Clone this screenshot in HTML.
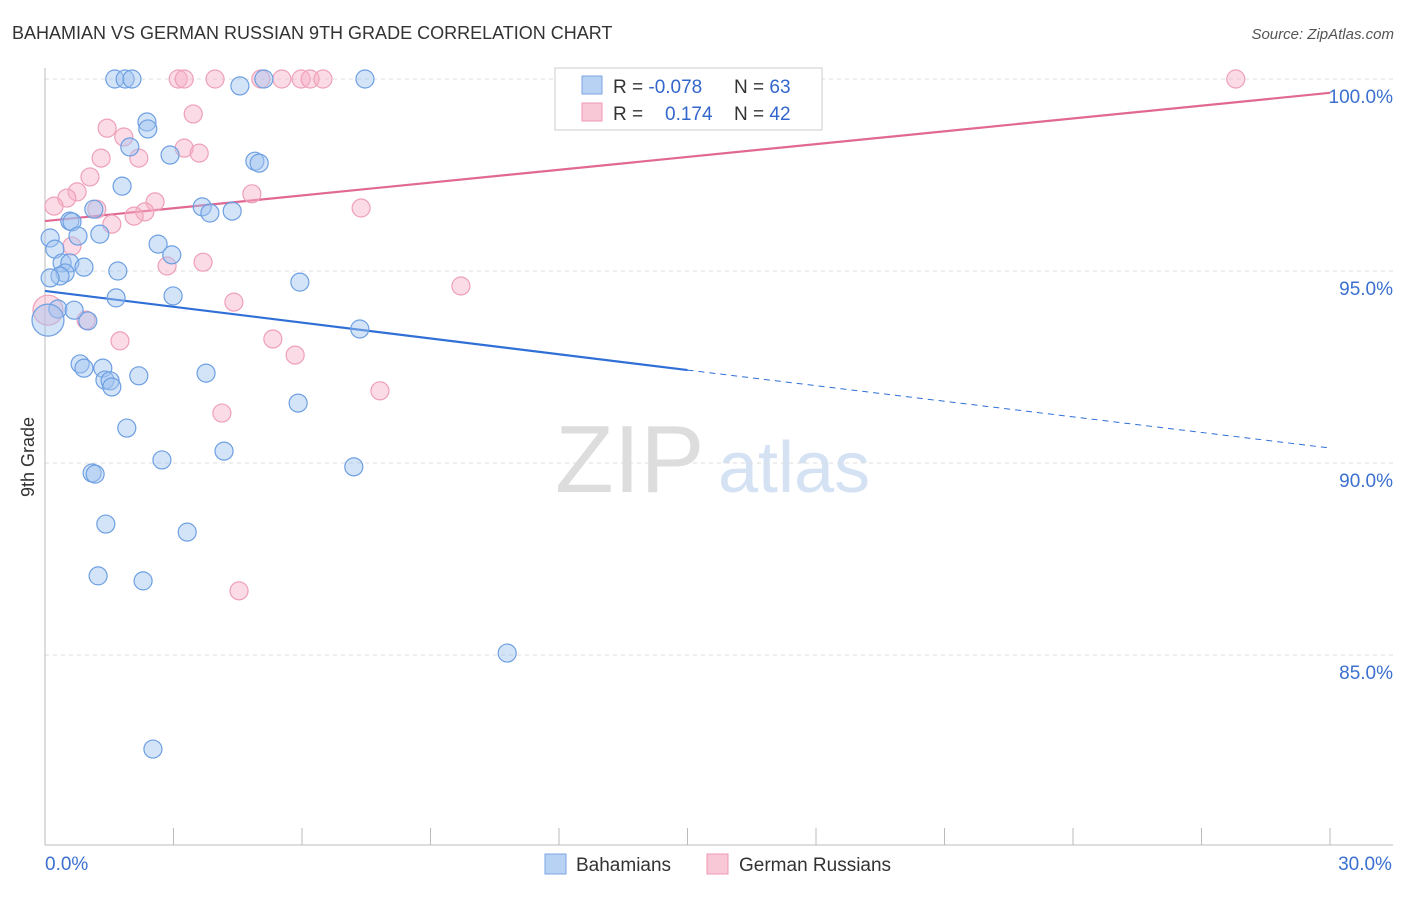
<!DOCTYPE html>
<html><head><meta charset="utf-8"><style>
body{margin:0;background:#fff;font-family:"Liberation Sans",sans-serif;}
svg text{font-family:"Liberation Sans",sans-serif;}
</style></head><body>
<svg id="c" width="1406" height="892">
<text x="12" y="39" font-size="18" fill="#333">BAHAMIAN VS GERMAN RUSSIAN 9TH GRADE CORRELATION CHART</text>
<text x="1394" y="39" font-size="15" fill="#555" text-anchor="end" font-style="italic">Source: ZipAtlas.com</text>
<text x="34" y="457" font-size="18" fill="#333" transform="rotate(-90 34 457)" text-anchor="middle">9th Grade</text>
<g><text x="555" y="492" font-size="96" fill="#ddd" font-family="Liberation Serif">ZIP</text><text x="718" y="492" font-size="72" fill="#d4e2f4">atlas</text></g>
<g id="grid"></g><g id="axes"></g><g id="trend"></g><g id="pts"></g>
<g>
<rect x="555" y="68" width="267" height="62" fill="#fff" stroke="#ccc"/>
<rect x="582" y="76" width="20" height="18" fill="#b8d2f4" stroke="#7aa7e6"/>
<rect x="582" y="103" width="20" height="18" fill="#f8c8d6" stroke="#ee99b4"/>
<text x="613" y="93" font-size="19" fill="#333">R = <tspan fill="#3366cc">-0.078</tspan><tspan x="734">N = </tspan><tspan fill="#3366cc">63</tspan></text>
<text x="613" y="120" font-size="19" fill="#333">R = <tspan x="665" fill="#3366cc">0.174</tspan><tspan x="734">N = </tspan><tspan fill="#3366cc">42</tspan></text>
</g>
<g>
<rect x="545" y="854" width="21" height="20" fill="#b8d2f4" stroke="#7aa7e6"/>
<text x="576" y="871" font-size="19" fill="#333">Bahamians</text>
<rect x="707" y="854" width="21" height="20" fill="#f8c8d6" stroke="#ee99b4"/>
<text x="739" y="871" font-size="19" fill="#333">German Russians</text>
</g>
</svg>
<script>
const yTicks=[100,95,90,85];
const yTickLabels=["100.0%","95.0%","90.0%","85.0%"];
const xTickLabels=["0.0%","30.0%"];
const blueX=[1.63,1.87,2.03,4.55,5.11,7.47,2.38,2.40,1.98,2.92,4.90,5.00,1.80,1.14,3.67,3.85,4.37,0.58,0.63,1.28,0.77,0.12,0.23,2.64,2.96,0.40,0.58,0.91,1.70,0.47,0.35,0.12,5.95,1.66,2.99,0.30,0.68,1.00,0.07,7.35,0.82,0.91,1.35,1.40,1.52,1.56,2.19,3.76,5.91,1.91,2.73,4.18,7.21,1.10,1.17,1.42,3.32,1.24,2.29,10.79,2.52];
const blueY=[100,100,100,99.82,100,100,98.88,98.70,98.23,98.02,97.86,97.81,97.21,96.61,96.67,96.51,96.56,96.30,96.28,95.96,95.91,95.86,95.57,95.70,95.42,95.21,95.21,95.10,95.00,94.95,94.87,94.82,94.71,94.30,94.35,94.01,93.98,93.70,93.72,93.49,92.58,92.47,92.47,92.16,92.14,91.98,92.27,92.34,91.56,90.91,90.08,90.31,89.90,89.74,89.71,88.41,88.20,87.06,86.93,85.05,82.55];
const pinkX=[3.11,3.25,3.97,5.04,5.53,5.98,6.19,6.49,12.49,27.80,3.46,1.45,1.84,3.25,3.60,1.31,2.19,1.05,0.75,0.51,4.83,0.21,1.21,2.57,2.33,2.08,1.56,7.38,0.63,3.69,2.85,9.71,4.41,0.96,0.07,1.75,5.32,5.84,7.82,4.13,4.53];
const pinkY=[100,100,100,100,100,100,100,100,100,100,99.09,98.72,98.49,98.20,98.07,97.94,97.94,97.45,97.06,96.90,97.01,96.69,96.61,96.80,96.54,96.43,96.22,96.64,95.65,95.23,95.13,94.61,94.19,93.72,93.98,93.18,93.23,92.81,91.88,91.30,86.67];
const blueTrend=[94.48,92.42,90.39]; // at x=0,15,30
const pinkTrend=[96.30,99.64]; // at x=0,30
const NS="http://www.w3.org/2000/svg";
const X=v=>45+v/30*1285, Y=v=>79+(100-v)/5*192;
function mk(t,a,p){const e=document.createElementNS(NS,t);for(const k in a)e.setAttribute(k,a[k]);p.appendChild(e);return e;}
const grid=document.getElementById('grid'),axes=document.getElementById('axes');
yTicks.forEach((t,i)=>{
 const l=mk('line',{x1:45,x2:1393,y1:Y(t),y2:Y(t),stroke:'#ddd','stroke-dasharray':'4 4'},grid);
 
 
 const tx=mk('text',{x:1393,y:Y(t)+24,'font-size':19,fill:'#3b6fd0','text-anchor':'end'},axes);
 tx.textContent=yTickLabels[i];
 
 
});
mk('line',{x1:45,x2:45,y1:68,y2:845,stroke:'#bbb'},axes);
mk('line',{x1:45,x2:1393,y1:845,y2:845,stroke:'#bbb'},axes);
for(let i=0;i<=10;i++){const x=X(i*3);const t=mk('line',{x1:x,x2:x,y1:828,y2:845,stroke:'#bbb'},axes);
 
 }
[[0,'start',45],[30,'middle',X(30)]].forEach((d,i)=>{const t=mk('text',{x:i?1365:45,y:870,'font-size':19,fill:'#3b6fd0','text-anchor':i?'middle':'start'},axes);t.textContent=xTickLabels[i];
 
 });
const tr=document.getElementById('trend');
const bl=mk('line',{x1:X(0),y1:Y(blueTrend[0]),x2:X(15),y2:Y(blueTrend[1]),stroke:'#2f6fd6','stroke-width':2.2},tr);


const bd=mk('line',{x1:X(15),y1:Y(blueTrend[1]),x2:X(30),y2:Y(blueTrend[2]),stroke:'#2f6fd6','stroke-width':1,'stroke-dasharray':'6 5'},tr);


const pl=mk('line',{x1:X(0),y1:Y(pinkTrend[0]),x2:X(30),y2:Y(pinkTrend[1]),stroke:'#e06892','stroke-width':2.2},tr);


const pts=document.getElementById('pts');
pinkX.forEach((x,i)=>{const c=mk('circle',{cx:X(x),cy:Y(pinkY[i]),r:(i==34?15:9),fill:'rgba(246,176,198,0.45)',stroke:'#eea0b8','stroke-width':1.2},pts);
 
 });
blueX.forEach((x,i)=>{const c=mk('circle',{cx:X(x),cy:Y(blueY[i]),r:(i==38?16:9),fill:'rgba(160,196,240,0.45)',stroke:'#6d9fe2','stroke-width':1.2},pts);
 
 });
</script>
</body></html>
